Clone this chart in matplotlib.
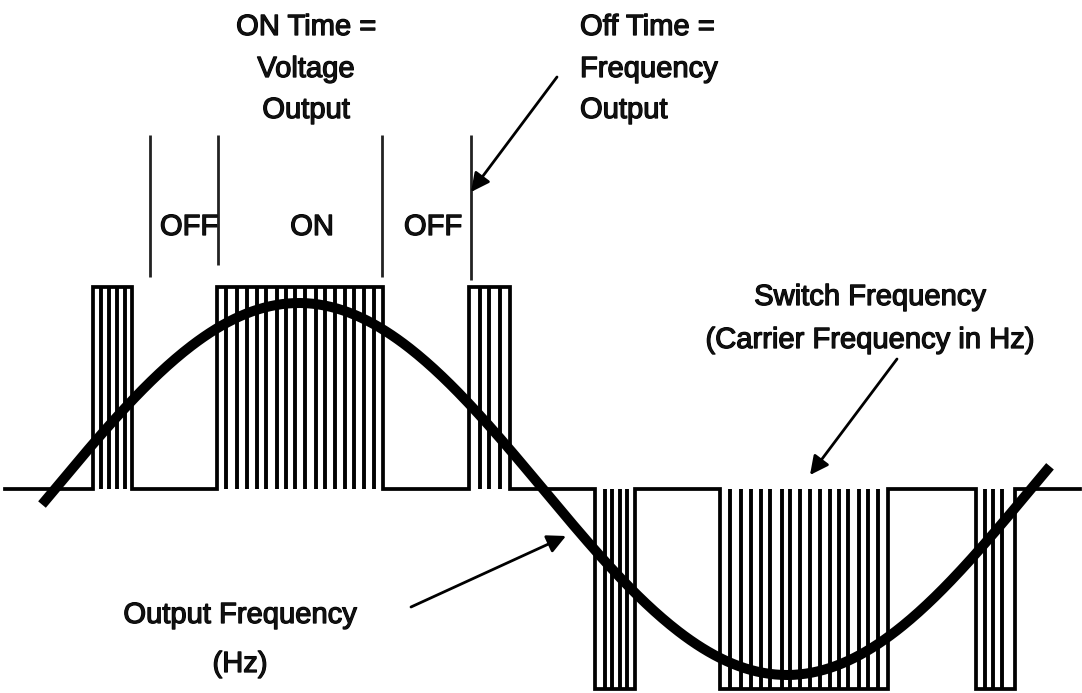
import numpy as np
import matplotlib
matplotlib.use("Agg")
import matplotlib.pyplot as plt
import matplotlib.patheffects as pe


# picture coordinates (pixels, y grows downward)
BASELINE = 489
PULSE_TOP = 287
PULSE_BOTTOM = 689
LINE_START = 5
LINE_END = 1080

# switching pulses: first and last x are the group edges
POS_GROUPS = [
    [93, 101, 109, 117, 125, 132],
    [217, 226, 237, 247, 257, 266, 277, 286, 295, 305, 316, 325, 335, 345, 354, 364, 374, 383],
    [469, 480, 489, 500, 510],
]
NEG_GROUPS = [
    [595, 605, 612, 620, 627, 635],
    [720, 730, 741, 751, 761, 770, 782, 790, 800, 810, 820, 830, 839, 848, 859, 868, 878, 888],
    [976, 985, 993, 1002, 1015],
]

# output sine wave
SINE_X_START = 42
SINE_X_END = 1050
SINE_ZERO_X = 55
SINE_HALF_PERIOD = 488
SINE_AMPLITUDE = 186

# ON / OFF markers
MARKER_X = [150, 218, 382, 471]
MARKER_TOP = [135, 135, 135, 135]
MARKER_BOTTOM = [277, 265, 277, 280]
STATE_LABELS = ["OFF", "ON", "OFF"]
STATE_X = [189, 312, 433]
STATE_Y = 235

FONT = "Liberation Sans"
FS = 21
HEAVY = [pe.withStroke(linewidth=0.9, foreground="black")]


def waveform_path():
    groups = [(g, PULSE_TOP) for g in POS_GROUPS] + [(g, PULSE_BOTTOM) for g in NEG_GROUPS]
    groups.sort(key=lambda item: item[0][0])

    xs = [LINE_START]
    ys = [BASELINE]
    for g, level in groups:
        x0, x1 = g[0], g[-1]
        xs += [x0, x0, x1, x1]
        ys += [BASELINE, level, level, BASELINE]
    xs.append(LINE_END)
    ys.append(BASELINE)
    return xs, ys


def label(ax, x, y, s, ha="center"):
    ax.text(x, y, s, ha=ha, va="baseline", fontsize=FS, family=FONT,
            color="#111111", path_effects=HEAVY)


def main():
    fig = plt.figure(figsize=(10.82, 6.93), dpi=100)
    ax = fig.add_axes([0, 0, 1, 1])
    ax.set_xlim(0, 1082)
    ax.set_ylim(693, 0)
    ax.axis("off")

    # square wave outline
    xs, ys = waveform_path()
    ax.plot(xs, ys, color="black", lw=2.7, solid_joinstyle="miter")

    # inner pulse lines
    for g in POS_GROUPS:
        ax.vlines(g[1:-1], PULSE_TOP, BASELINE, color="black", lw=2.8)
    for g in NEG_GROUPS:
        ax.vlines(g[1:-1], BASELINE, PULSE_BOTTOM, color="black", lw=2.8)

    # sine wave
    sx = np.linspace(SINE_X_START, SINE_X_END, 500)
    sy = BASELINE - SINE_AMPLITUDE * np.sin(np.pi * (sx - SINE_ZERO_X) / SINE_HALF_PERIOD)
    ax.plot(sx, sy, color="black", lw=7.2, solid_capstyle="butt")

    # ON/OFF marker lines
    ax.vlines(MARKER_X, MARKER_TOP, MARKER_BOTTOM, color="#222222", lw=2.0)
    for s, x in zip(STATE_LABELS, STATE_X):
        label(ax, x, STATE_Y, s)

    # top-left text block
    for line, y in zip(["ON Time =", "Voltage", "Output"], [35, 77, 118]):
        label(ax, 306, y, line)

    # top-right text block
    for line, y in zip(["Off Time =", "Frequency", "Output"], [35, 77, 118]):
        label(ax, 580, y, line, ha="left")

    label(ax, 870, 305, "Switch Frequency")
    label(ax, 870, 348, "(Carrier Frequency in Hz)")

    label(ax, 240, 623, "Output Frequency")
    label(ax, 240, 672, "(Hz)")

    arrow = dict(arrowstyle="-|>", color="black", lw=2.0, mutation_scale=28,
                 shrinkA=0, shrinkB=0)
    ax.annotate("", xy=(471, 192), xytext=(557, 77), arrowprops=arrow)
    ax.annotate("", xy=(810, 475), xytext=(897, 359), arrowprops=arrow)
    ax.annotate("", xy=(566, 536), xytext=(411, 607), arrowprops=arrow)

    fig.savefig("out.png", dpi=100, facecolor="white")


if __name__ == "__main__":
    main()
